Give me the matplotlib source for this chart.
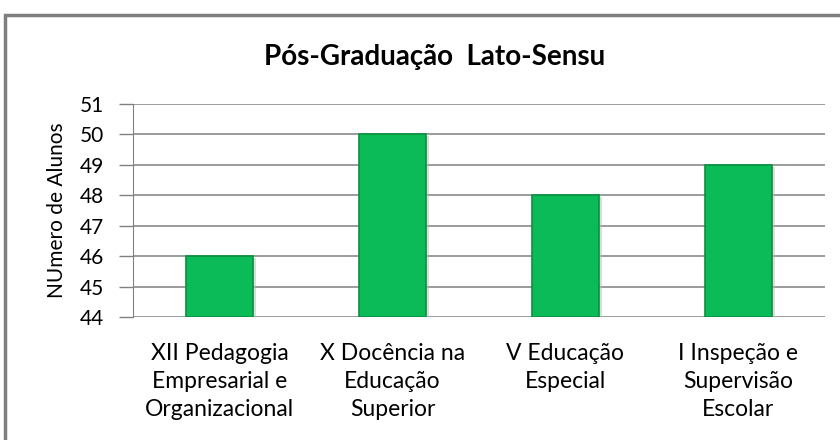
import numpy as np
from matplotlib import pyplot as plt
from matplotlib.patches import Rectangle

categories = [
    "XII Pedagogia\nEmpresarial e\nOrganizacional",
    "X Docência na\nEducação\nSuperior",
    "V Educação\nEspecial",
    "I Inspeção e\nSupervisão\nEscolar",
]
alunos = [46, 50, 48, 49]
yticks = [44, 45, 46, 47, 48, 49, 50, 51]

plt.rcParams["font.family"] = ["Lato", "DejaVu Sans"]

W, H = 840, 440
fig = plt.figure(figsize=(W / 100, H / 100), dpi=100)
ax = fig.add_axes([133 / W, 1 - 317 / H, (825 - 133) / W, (317 - 104) / H])

# outer chart border
fig.patches.append(Rectangle((5 / W, -0.1), 1.2, 1.1 - 15 / H, transform=fig.transFigure,
                             fill=False, edgecolor="#7f7f7f", linewidth=2.5))

x = np.arange(len(categories))
# soft shadow then bar
ax.bar(x + 0.012, np.array(alunos) - 44, bottom=44 - 0.06, width=0.4, color="#bbbbbb",
       alpha=0.5, zorder=2)
ax.bar(x, np.array(alunos) - 44, bottom=44, width=0.39, color="#0bbb58",
       edgecolor="#07913f", linewidth=1.2, zorder=3)

ax.set_xlim(-0.5, len(categories) - 0.5)
ax.set_ylim(44, 51)
ax.set_yticks(yticks)
ax.set_xticks(x)
ax.set_xticklabels(categories, fontsize=16.5, linespacing=1.4)
ax.tick_params(axis="x", length=0, pad=19)
ax.tick_params(axis="y", length=10, color="#808080", labelsize=15, pad=11, width=1)
ax.yaxis.grid(True, color="#8a8a8a", linewidth=1.2, zorder=0)
ax.set_axisbelow(True)
for s in ["top", "right", "bottom"]:
    ax.spines[s].set_visible(False)
ax.spines["left"].set_color("#808080")
ax.set_ylabel("NUmero de Alunos", fontsize=15, labelpad=9)

fig.text(435 / W, 1 - 57 / H, "Pós-Graduação  Lato-Sensu", ha="center", va="center",
         fontsize=20, fontweight="bold")

fig.savefig("out.png", dpi=100)
